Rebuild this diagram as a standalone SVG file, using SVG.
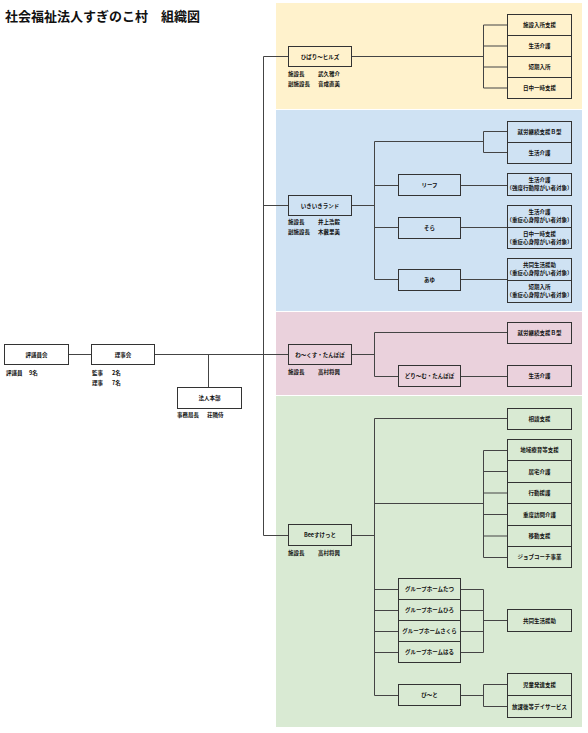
<svg xmlns="http://www.w3.org/2000/svg" width="588" height="733" viewBox="0 0 588 733">
<style>
.bx{fill:none;stroke:#333;stroke-width:1}
.ln{fill:none;stroke:#444;stroke-width:1}
text{font-family:"Noto Sans CJK JP","Noto Sans",sans-serif;font-weight:bold;fill:#111}
.t{font-size:5.5px;text-anchor:middle}
.s{font-size:5.5px}
.title{font-size:13px}
</style>
<rect width="588" height="733" fill="#fff"/>
<g id="panels">
<rect x="276" y="3" width="306" height="106" fill="#fff2cc"/>
<rect x="276" y="110" width="306" height="201" fill="#cfe2f3"/>
<rect x="276" y="312" width="306" height="83" fill="#ead1dc"/>
<rect x="276" y="396" width="306" height="331" fill="#d9ead3"/>
</g>
<text class="title" x="5" y="21">社会福祉法人すぎのこ村　組織図</text>
<g id="connectors" class="ln">
<path d="M68.5 354.5H91.5M154.5 354.5H288.5M208.5 354.5V387.5"/>
<path d="M263.5 56.5V535.5M263.5 56.5H288.5M263.5 205.5H288.5M263.5 535.5H288.5"/>
<path d="M351.5 56.5H483.5M483.5 25V88M483.5 25H507.5M483.5 46H507.5M483.5 67H507.5M483.5 88H507.5"/>
<path d="M351.5 205.5H374.5M374.5 141.5V279.5M374.5 141.5H483.5M483.5 131.5V152.5M483.5 131.5H507.5M483.5 152.5H507.5"/>
<path d="M374.5 185.5H398.5M460.5 185.5H507.5M374.5 227.5H398.5M460.5 227.5H507.5M374.5 279.5H398.5M460.5 279.5H507.5"/>
<path d="M351.5 354.5H374.5M374.5 332.5V376.5M374.5 332.5H507.5M374.5 376.5H398.5M460.5 376.5H507.5"/>
<path d="M351.5 535.5H374.5M374.5 418.5V695.5M374.5 418.5H507.5M374.5 503.5H483.5M483.5 450.5V557.5"/>
<path d="M483.5 450.5H507.5M483.5 471.5H507.5M483.5 493H507.5M483.5 514.5H507.5M483.5 536H507.5M483.5 557.5H507.5"/>
<path d="M374.5 589.5H398.5M374.5 610.5H398.5M374.5 631.5H398.5M374.5 652.5H398.5M460.5 589.5H483.5M460.5 610.5H483.5M460.5 631.5H483.5M460.5 652.5H483.5M483.5 589.5V652.5M483.5 620.5H507.5"/>
<path d="M374.5 695.5H398.5M460.5 695.5H483.5M483.5 684.5V706.5M483.5 684.5H507.5M483.5 706.5H507.5"/>
</g>
<g id="hyogiinkai">
<rect class="bx" x="4.5" y="344.5" width="64" height="20"/>
<text class="t" x="36.5" y="356.5">評議員会</text>
<text class="s" x="6" y="375">評議員</text><text class="s" x="29" y="375">9名</text>
</g>
<g id="rijikai">
<rect class="bx" x="91.5" y="344.5" width="63" height="20"/>
<text class="t" x="123" y="356.5">理事会</text>
<text class="s" x="92" y="375">監事</text><text class="s" x="112" y="375">2名</text>
<text class="s" x="92" y="385">理事</text><text class="s" x="112" y="385">7名</text>
</g>
<g id="honbu">
<rect class="bx" x="177.5" y="387.5" width="64" height="21"/>
<text class="t" x="209.5" y="400">法人本部</text>
<text class="s" x="177" y="416.5">事務局長</text><text class="s" x="207" y="416.5">荘隣侍</text>
</g>
<g id="hibari">
<rect class="bx" x="288.5" y="46.5" width="63" height="20"/>
<text class="t" x="320" y="58.5">ひばり〜ヒルズ</text>
<text class="s" x="288" y="76">施設長</text><text class="s" x="318" y="76">武久雅介</text>
<text class="s" x="288" y="86">副施設長</text><text class="s" x="318" y="86">音成直美</text>
</g>
<g id="hibari-services">
<rect class="bx" x="507.5" y="14.5" width="64" height="21"/><text class="t" x="539.5" y="27">施設入所支援</text>
<rect class="bx" x="507.5" y="35.5" width="64" height="21"/><text class="t" x="539.5" y="48">生活介護</text>
<rect class="bx" x="507.5" y="56.5" width="64" height="21"/><text class="t" x="539.5" y="69">短期入所</text>
<rect class="bx" x="507.5" y="77.5" width="64" height="21"/><text class="t" x="539.5" y="90">日中一時支援</text>
</g>
<g id="ikiiki">
<rect class="bx" x="288.5" y="195.5" width="63" height="20"/>
<text class="t" x="320" y="207.5">いきいきランド</text>
<text class="s" x="288" y="224">施設長</text><text class="s" x="318" y="224">井上浩毅</text>
<text class="s" x="288" y="234">副施設長</text><text class="s" x="318" y="234">木藪里美</text>
</g>
<g id="ikiiki-services">
<rect class="bx" x="507.5" y="121.5" width="64" height="21"/><text class="t" x="539.5" y="134">就労継続支援Ｂ型</text>
<rect class="bx" x="507.5" y="142.5" width="64" height="21"/><text class="t" x="539.5" y="155">生活介護</text>
</g>
<g id="leaf">
<rect class="bx" x="398.5" y="174.5" width="62" height="21"/><text class="t" x="429.5" y="187">リーフ</text>
<rect class="bx" x="507.5" y="173.5" width="64" height="22"/>
<text class="t" x="539.5" y="182">生活介護</text><text class="t" x="539.5" y="190">（強度行動障がい者対象）</text>
</g>
<g id="sora">
<rect class="bx" x="398.5" y="217.5" width="62" height="21"/><text class="t" x="429.5" y="230">そら</text>
<rect class="bx" x="507.5" y="205.5" width="64" height="22"/>
<text class="t" x="539.5" y="214">生活介護</text><text class="t" x="539.5" y="222">（重症心身障がい者対象）</text>
<rect class="bx" x="507.5" y="227.5" width="64" height="21"/>
<text class="t" x="539.5" y="236">日中一時支援</text><text class="t" x="539.5" y="244">（重症心身障がい者対象）</text>
</g>
<g id="ayu">
<rect class="bx" x="398.5" y="269.5" width="62" height="21"/><text class="t" x="429.5" y="282">あゆ</text>
<rect class="bx" x="507.5" y="258.5" width="64" height="22"/>
<text class="t" x="539.5" y="267">共同生活援助</text><text class="t" x="539.5" y="275">（重症心身障がい者対象）</text>
<rect class="bx" x="507.5" y="280.5" width="64" height="22"/>
<text class="t" x="539.5" y="289">短期入所</text><text class="t" x="539.5" y="297">（重症心身障がい者対象）</text>
</g>
<g id="wakusu">
<rect class="bx" x="288.5" y="344.5" width="63" height="20"/>
<text class="t" x="320" y="356.5">わ〜くす・たんぽぽ</text>
<text class="s" x="288" y="373.5">施設長</text><text class="s" x="318" y="373.5">高村将興</text>
<rect class="bx" x="507.5" y="322.5" width="64" height="21"/><text class="t" x="539.5" y="335">就労継続支援Ｂ型</text>
</g>
<g id="dream">
<rect class="bx" x="398.5" y="365.5" width="62" height="21"/><text class="t" x="429.5" y="378">どり〜む・たんぽぽ</text>
<rect class="bx" x="507.5" y="365.5" width="64" height="21"/><text class="t" x="539.5" y="378">生活介護</text>
</g>
<g id="bee">
<rect class="bx" x="288.5" y="524.5" width="63" height="21"/>
<text class="t" x="320" y="537">Beeすけっと</text>
<text class="s" x="288" y="555">施設長</text><text class="s" x="318" y="555">高村将興</text>
</g>
<g id="bee-services">
<rect class="bx" x="507.5" y="408.5" width="64" height="21"/><text class="t" x="539.5" y="421">相談支援</text>
<rect class="bx" x="507.5" y="439.5" width="64" height="21"/><text class="t" x="539.5" y="452">地域療育等支援</text>
<rect class="bx" x="507.5" y="460.5" width="64" height="22"/><text class="t" x="539.5" y="473.5">居宅介護</text>
<rect class="bx" x="507.5" y="482.5" width="64" height="21"/><text class="t" x="539.5" y="495">行動援護</text>
<rect class="bx" x="507.5" y="503.5" width="64" height="22"/><text class="t" x="539.5" y="516.5">重度訪問介護</text>
<rect class="bx" x="507.5" y="525.5" width="64" height="21"/><text class="t" x="539.5" y="538">移動支援</text>
<rect class="bx" x="507.5" y="546.5" width="64" height="21"/><text class="t" x="539.5" y="559">ジョブコーチ事業</text>
</g>
<g id="grouphomes">
<rect class="bx" x="398.5" y="578.5" width="62" height="21"/><text class="t" x="429.5" y="591">グループホームたつ</text>
<rect class="bx" x="398.5" y="599.5" width="62" height="21"/><text class="t" x="429.5" y="612">グループホームひろ</text>
<rect class="bx" x="398.5" y="620.5" width="62" height="21"/><text class="t" x="429.5" y="633">グループホームさくら</text>
<rect class="bx" x="398.5" y="641.5" width="62" height="21"/><text class="t" x="429.5" y="654">グループホームはる</text>
<rect class="bx" x="507.5" y="609.5" width="64" height="22"/><text class="t" x="539.5" y="622.5">共同生活援助</text>
</g>
<g id="pito">
<rect class="bx" x="398.5" y="684.5" width="62" height="21"/><text class="t" x="429.5" y="697">ぴ〜と</text>
<rect class="bx" x="507.5" y="673.5" width="64" height="22"/><text class="t" x="539.5" y="686.5">児童発達支援</text>
<rect class="bx" x="507.5" y="695.5" width="64" height="22"/><text class="t" x="539.5" y="708.5">放課後等デイサービス</text>
</g>
</svg>
